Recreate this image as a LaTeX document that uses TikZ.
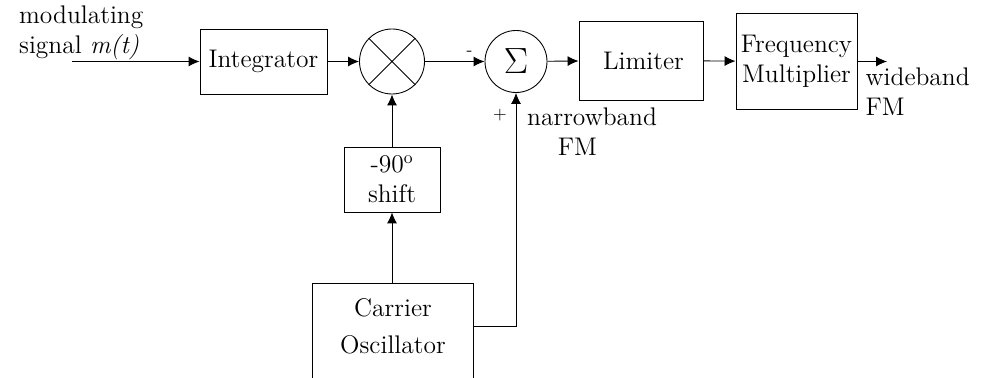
\documentclass[tikz,border=0pt]{standalone}
\usetikzlibrary{arrows.meta}
\begin{document}
\begin{tikzpicture}[>={Latex[length=2.2mm,width=2mm]}, line width=0.5pt, every node/.style={font=\fontsize{14.5}{17}\selectfont}]
\tikzset{block/.style={draw, align=center, inner sep=2pt}}
\useasboundingbox (0,0) rectangle (19.82,7.56);
\clip (0,0) rectangle (19.82,7.56);
\node[align=left, anchor=west, inner sep=1pt] (msg) at (0.34,6.9) {modulating\\signal \textit{m(t)}};
\coordinate (in) at (1.44,6.33);
\node[block, minimum width=2.54cm, minimum height=1.3cm] (integ) at (5.27,6.33) {Integrator};
\node[draw, circle, minimum size=1.3cm] (mul) at (7.84,6.33) {};
\draw (mul.north west) -- (mul.south east) (mul.north east) -- (mul.south west);
\node[draw, circle, minimum size=1.24cm, inner sep=0pt, font=\fontsize{21}{25}\selectfont] (sum) at (10.32,6.33) {$\Sigma$};
\node[block, minimum width=2.48cm, minimum height=1.58cm] (lim) at (12.82,6.35) {\hspace{0.1cm}Limiter};
\node[block, minimum width=2.42cm, minimum height=1.92cm] (fmul) at (15.93,6.33) {Frequency\\Multiplier};
\coordinate (out) at (17.74,6.33);
\node[align=left, anchor=west, inner sep=1pt] (wfm) at (17.27,5.72) {wideband\\FM};
\node[block, minimum width=1.92cm, minimum height=1.3cm] (shift) at (7.84,3.97) {-90$^{\rm o}$\\shift};
\node[minimum width=3.2cm, minimum height=1.68cm, align=center] (osc) at (7.86,1.04) {Carrier\\[4pt]Oscillator};
\draw ([yshift=-1cm]osc.south west) |- (osc.north east) -- ([yshift=-1cm]osc.south east);
\node[font=\normalsize] (plus) at (10.0,5.26) {+};
\node[align=left, anchor=west, inner sep=1pt] (nbfm) at (10.5,4.92) {narrowband\\\hspace{1.2em}FM};
\draw[->] (in) -- (integ);
\draw[->] (integ) -- (mul);
\draw[->] (mul) -- node[pos=0.75, above, font=\normalsize] (minus) {-} (sum);
\draw[->] (sum) -- (lim);
\draw[->] (lim) -- (fmul);
\draw[->] (fmul) -- (out);
\draw[->] (osc.north -| shift) -- (shift);
\draw[->] (shift) -- (mul);
\draw[->] (osc.east) -| (sum.south);
\end{tikzpicture}
\end{document}
